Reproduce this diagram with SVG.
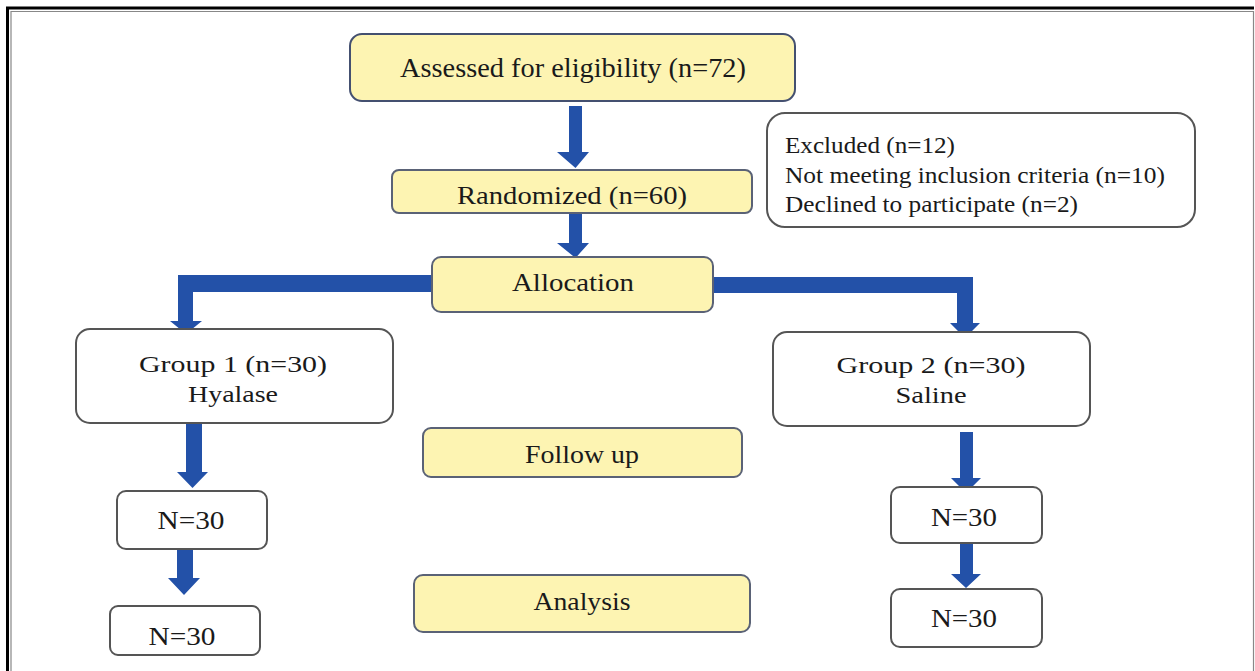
<svg xmlns="http://www.w3.org/2000/svg" width="1255" height="671" viewBox="0 0 1255 671">
<defs>
<style>
.y{fill:#fdf4b2;stroke:#5a6276;stroke-width:2}
.w{fill:#ffffff;stroke:#555555;stroke-width:2}
.t{font-family:"Liberation Serif","Times New Roman",serif;fill:#1a1a1a;text-anchor:middle}
.s{text-anchor:start}
.a{fill:#2351a8;stroke:none}
</style>
</defs>
<rect x="0" y="0" width="1255" height="671" fill="#ffffff"/>
<g id="frame">
<path d="M7.5 671 V8 H1254" fill="none" stroke="#000" stroke-width="3"/>
<path d="M11 671 V11.5 H1253.5 V671" fill="none" stroke="#888" stroke-width="1.2"/>
</g>
<g id="connectors">
<path class="a" d="M569 106 H582 V152 H589 L575.5 168 L557 152 H569 Z"/>
<path class="a" d="M569 213 H582 V243 H589 L575.5 258 L557 243 H569 Z"/>
<path class="a" d="M432 275 V292 H193 V321 H202 L186 334 L170 321 H178 V275 Z"/>
<path class="a" d="M713 277 V293 H957 V323 H950 L965 338 L980 323 H973 V277 Z"/>
<path class="a" d="M186 424 H202 V472 H208 L192.5 488 L177 472 H186 Z"/>
<path class="a" d="M177 549 H193 V578 H200 L184 595 L168 578 H177 Z"/>
<path class="a" d="M960 432 H973 V478 H981 L966 493 L951 478 H960 Z"/>
<path class="a" d="M960 543 H973 V574 H981 L966 588 L951 574 H960 Z"/>
</g>
<g id="assessed">
<rect class="y" x="350" y="34" width="445" height="67" rx="12" style="stroke:#445070"/>
<text class="t" x="573" y="77" font-size="28" textLength="346" lengthAdjust="spacingAndGlyphs">Assessed for eligibility (n=72)</text>
</g>
<g id="randomized">
<rect class="y" x="392" y="170" width="360" height="43" rx="7"/>
<text class="t" x="572" y="204" font-size="26" textLength="230" lengthAdjust="spacingAndGlyphs">Randomized (n=60)</text>
</g>
<g id="allocation">
<rect class="y" x="432" y="257" width="281" height="55" rx="9"/>
<text class="t" x="573" y="291" font-size="26" textLength="122" lengthAdjust="spacingAndGlyphs">Allocation</text>
</g>
<g id="excluded">
<rect class="w" x="767" y="113" width="428" height="114" rx="18"/>
<text class="t s" x="785" y="153" font-size="23" textLength="170" lengthAdjust="spacingAndGlyphs">Excluded (n=12)</text>
<text class="t s" x="785" y="183" font-size="23" textLength="380" lengthAdjust="spacingAndGlyphs">Not meeting inclusion criteria (n=10)</text>
<text class="t s" x="785" y="212" font-size="23" textLength="293" lengthAdjust="spacingAndGlyphs">Declined to participate (n=2)</text>
</g>
<g id="group1">
<rect class="w" x="76" y="329" width="317" height="94" rx="14"/>
<text class="t" x="233" y="372" font-size="24" textLength="188" lengthAdjust="spacingAndGlyphs">Group 1  (n=30)</text>
<text class="t" x="233" y="402" font-size="24" textLength="90" lengthAdjust="spacingAndGlyphs">Hyalase</text>
</g>
<g id="group2">
<rect class="w" x="773" y="332" width="317" height="94" rx="14"/>
<text class="t" x="931" y="373" font-size="24" textLength="189" lengthAdjust="spacingAndGlyphs">Group 2  (n=30)</text>
<text class="t" x="931" y="403" font-size="24" textLength="71" lengthAdjust="spacingAndGlyphs">Saline</text>
</g>
<g id="followup">
<rect class="y" x="423" y="428" width="319" height="49" rx="8"/>
<text class="t" x="582" y="463" font-size="26" textLength="114" lengthAdjust="spacingAndGlyphs">Follow up</text>
</g>
<g id="analysis">
<rect class="y" x="414" y="575" width="336" height="57" rx="9"/>
<text class="t" x="582" y="610" font-size="26" textLength="97" lengthAdjust="spacingAndGlyphs">Analysis</text>
</g>
<g id="n30-l1">
<rect class="w" x="117" y="491" width="150" height="58" rx="9"/>
<text class="t" x="191" y="529" font-size="26" textLength="67" lengthAdjust="spacingAndGlyphs">N=30</text>
</g>
<g id="n30-l2">
<rect class="w" x="110" y="606" width="150" height="49" rx="8"/>
<text class="t" x="182" y="645" font-size="26" textLength="67" lengthAdjust="spacingAndGlyphs">N=30</text>
</g>
<g id="n30-r1">
<rect class="w" x="891" y="487" width="151" height="56" rx="9"/>
<text class="t" x="964" y="526" font-size="26" textLength="66" lengthAdjust="spacingAndGlyphs">N=30</text>
</g>
<g id="n30-r2">
<rect class="w" x="891" y="589" width="151" height="58" rx="9"/>
<text class="t" x="964" y="627" font-size="26" textLength="66" lengthAdjust="spacingAndGlyphs">N=30</text>
</g>
</svg>
